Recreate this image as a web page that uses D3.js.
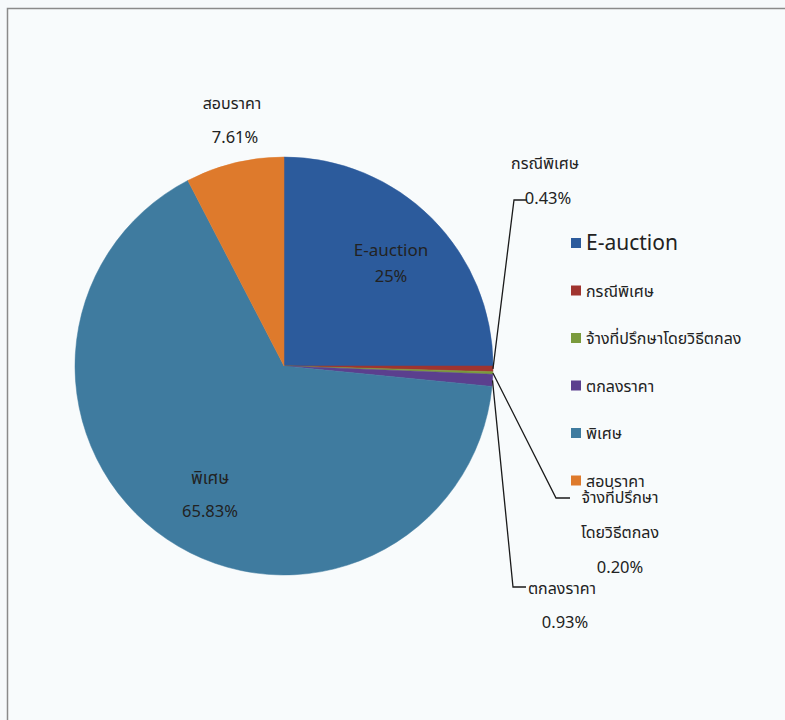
<!DOCTYPE html>
<html>
<head>
<meta charset="utf-8">
<script src="https://cdn.jsdelivr.net/npm/d3@7"></script>
<style>
  body { margin: 0; background: #f6f9fb; }
  svg { display: block; }
  text { font-family: "Noto Sans Thai", "Noto Sans", "DejaVu Sans", sans-serif; fill: #222; }
</style>
</head>
<body>
<svg id="chart" width="785" height="720"></svg>
<script>
// data
var categories = ["E-auction", "กรณีพิเศษ", "จ้างที่ปรึกษาโดยวิธีตกลง", "ตกลงราคา", "พิเศษ", "สอบราคา"];
var shares = [25, 0.43, 0.20, 0.93, 65.83, 7.61];
var shareLabels = ["25%", "0.43%", "0.20%", "0.93%", "65.83%", "7.61%"];
var colors = ["#2c5b9c", "#a0342f", "#7a9a3c", "#5b3f8e", "#3f7b9f", "#de7a2c"];

var svg = d3.select("#chart");

// chart frame
svg.append("rect").attr("x", 7.5).attr("y", 8.5).attr("width", 790).attr("height", 720)
    .attr("fill", "#f8fbfc").attr("stroke", "#8a8a8a").attr("stroke-width", 1.5);

var cx = 284, cy = 366, r = 209;
var g = svg.append("g").attr("transform", "translate(" + cx + "," + cy + ")");

var pie = d3.pie().sort(null).value(function(d) { return d; });
var arcs = pie(shares);
var arc = d3.arc().innerRadius(0).outerRadius(r);

g.selectAll("path").data(arcs).enter().append("path")
    .attr("d", arc)
    .attr("fill", function(d, i) { return colors[i]; })
    .attr("stroke", function(d, i) { return colors[i]; })
    .attr("stroke-width", 0.5);

// where each label sits (layout only)
var labelPos = [
    {inside: true, x: 391, y: 256, dy: 26, lines: ["E-auction"]},
    {x: 545, y: 169, dy: 35, lines: ["กรณีพิเศษ"], elbow: [514, 200, 527]},
    {x: 620, y: 503, dy: 35, lines: ["จ้างที่ปรึกษา", "โดยวิธีตกลง"], elbow: [556, 498, 570]},
    {x: 562, y: 594, dy: 34, lines: ["ตกลงราคา"], elbow: [513, 587, 526]},
    {inside: true, x: 210, y: 484, dy: 33, lines: ["พิเศษ"]},
    {x: 232, y: 109, dy: 34, lines: ["สอบราคา"]}
];

var edge = d3.arc().innerRadius(r).outerRadius(r);

arcs.forEach(function(a, i) {
    var p = labelPos[i];
    if (p.elbow) {
        var c = edge.centroid(a);
        var pts = [[cx + c[0], cy + c[1]], [p.elbow[0], p.elbow[1]], [p.elbow[2], p.elbow[1]]];
        svg.append("path").attr("d", d3.line()(pts))
            .attr("fill", "none").attr("stroke", "#1a1a1a").attr("stroke-width", 1.3);
    }
    var t = svg.append("g");
    p.lines.concat([shareLabels[i]]).forEach(function(s, k) {
        var isPct = k === p.lines.length;
        t.append("text")
            .attr("x", p.x + (isPct && !p.inside && i !== 2 ? 3 : 0))
            .attr("y", p.y + k * p.dy)
            .attr("text-anchor", "middle")
            .attr("font-size", isPct ? "16.5px" : (p.inside ? "17px" : "16px"))
            .attr("fill", p.inside ? "#0f1722" : "#222")
            .text(s);
    });
});

// legend
var legend = svg.append("g").attr("transform", "translate(571,238)");
var item = legend.selectAll("g").data(categories).enter().append("g")
    .attr("transform", function(d, i) { return "translate(0," + (i * 47.5) + ")"; });
item.append("rect").attr("width", 10).attr("height", 10)
    .attr("fill", function(d, i) { return colors[i]; });
item.append("text").attr("x", 15).attr("y", function(d, i) { return i === 0 ? 12 : 11; })
    .attr("font-size", function(d, i) { return i === 0 ? "21px" : "16px"; })
    .text(function(d) { return d; });
</script>
</body>
</html>
